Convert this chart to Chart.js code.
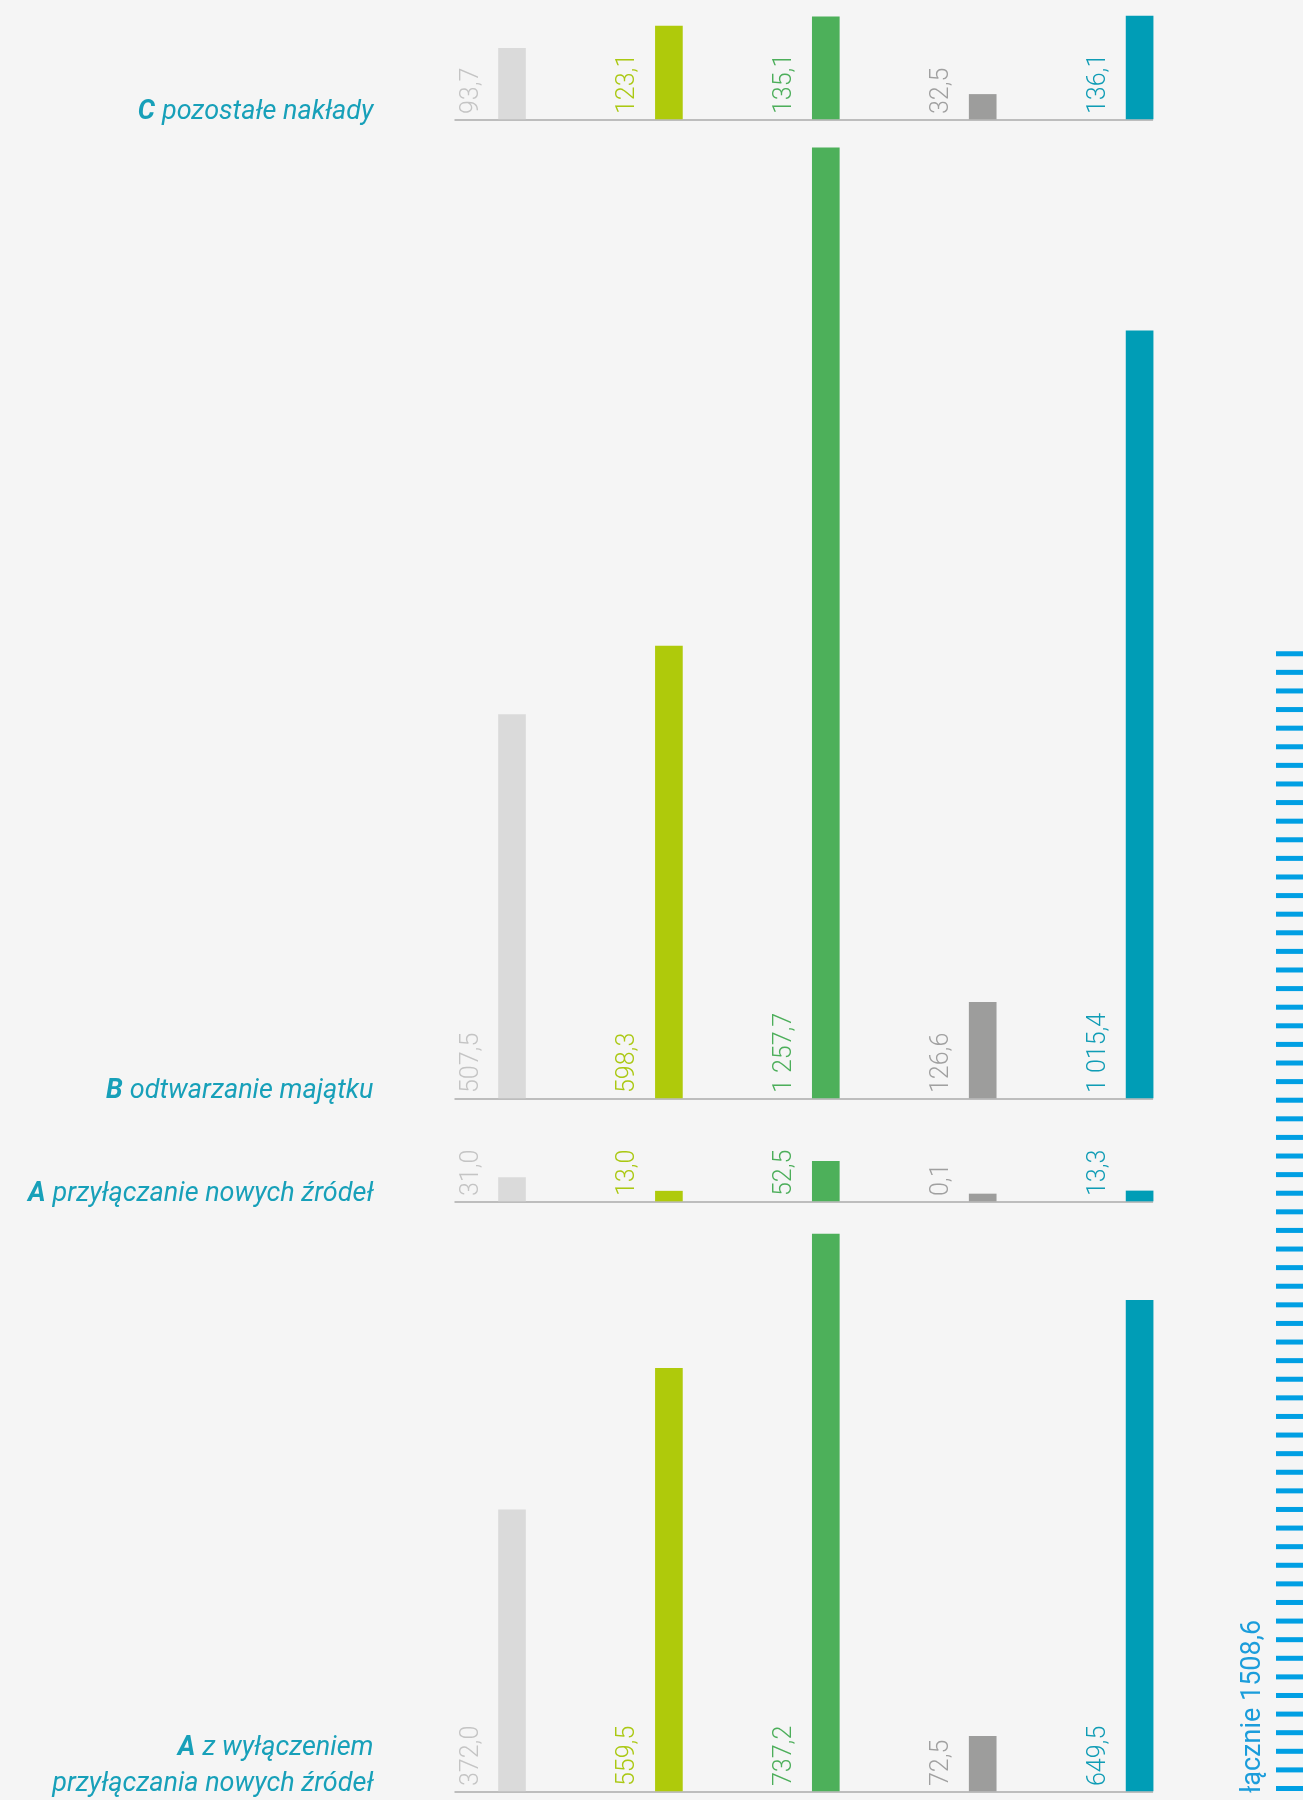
<!DOCTYPE html>
<html lang="pl">
<head>
<meta charset="utf-8">
<title>Nakłady inwestycyjne</title>
<script src="https://cdn.jsdelivr.net/npm/chart.js@4/dist/chart.umd.min.js"></script>
<style>
  html, body { margin: 0; padding: 0; background: #f5f5f5; }
  #wrap { position: relative; width: 1303px; height: 1800px; overflow: hidden; }
</style>
</head>
<body>
<div id="wrap"><canvas id="chart" width="1303" height="1800"></canvas></div>
<script>
// columns, one colour each; the last one is the dashed total bar
const columns = ["kol. 1", "kol. 2", "kol. 3", "kol. 4", "kol. 5", "łącznie"];

// panels, top to bottom
const panelLetters = ["C", "B", "A", "A"];
const panelNames = [
  ["pozostałe nakłady"],
  ["odtwarzanie majątku"],
  ["przyłączanie nowych źródeł"],
  ["z wyłączeniem", "przyłączania nowych źródeł"]
];

const pozostale = [93.7, 123.1, 135.1, 32.5, 136.1];
const odtwarzanie = [507.5, 598.3, 1257.7, 126.6, 1015.4];
const przylaczanie = [31.0, 13.0, 52.5, 0.1, 13.3];
const bezPrzylaczania = [372.0, 559.5, 737.2, 72.5, 649.5];
const lacznie = 1508.6;

const panelValues = [pozostale, odtwarzanie, przylaczanie, bezPrzylaczania];

// look
const barColors = ["#dadada", "#afca0b", "#4db05a", "#9d9d9c", "#009db6"];
const labelColors = ["#c4c4c4", "#aac812", "#4cae5a", "#a0a0a0", "#0f9cb5"];
const teal = "#17a0b9";
const totalBlue = "#009fe3";

// every panel shares one px/unit, only its zero line moves
const H = 1800;
const pxPerUnit = 0.7555;
const baselines = [119, 1098, 1201, 1791];

function fmt(v) {
  const parts = v.toFixed(1).split(".");
  return parts[0].replace(/\B(?=(\d{3})+(?!\d))/g, " ") + "," + parts[1];
}

const scales = {
  x: { type: "category", offset: false, display: false }
};
baselines.forEach((b, i) => {
  scales["y" + i] = {
    type: "linear",
    display: false,
    min: -(H - b) / pxPerUnit,
    max: b / pxPerUnit
  };
});

const datasets = panelValues.map((vals, i) => ({
  label: panelLetters[i] + " " + panelNames[i].join(" "),
  data: vals.concat([null]),
  yAxisID: "y" + i,
  backgroundColor: barColors,
  barThickness: 27,
  minBarLength: 7,
  grouped: false,
  clip: false
}));

datasets.push({
  label: "łącznie",
  data: [null, null, null, null, null, lacznie],
  yAxisID: "y3",
  backgroundColor: "rgba(0,0,0,0)",
  barThickness: 41,
  grouped: false,
  clip: false
});

const decor = {
  id: "decor",
  beforeDatasetsDraw(chart) {
    const ctx = chart.ctx;
    const els = chart.getDatasetMeta(0).data;
    const x0 = els[0].x - els[0].width / 2 - 44;
    const x1 = els[4].x + els[4].width / 2;
    ctx.save();
    ctx.strokeStyle = "#bdbdbd";
    ctx.lineWidth = 2;
    baselines.forEach((b, i) => {
      const y = chart.scales["y" + i].getPixelForValue(0) + 1;
      ctx.beginPath();
      ctx.moveTo(x0, y);
      ctx.lineTo(x1, y);
      ctx.stroke();
    });
    ctx.restore();
  },
  afterDatasetsDraw(chart) {
    const ctx = chart.ctx;
    const first = chart.getDatasetMeta(0).data[0];
    const textRight = first.x - first.width / 2 - 44 - 81;

    ctx.save();
    panelValues.forEach((vals, i) => {
      // values, rotated, left of each bar
      ctx.font = "300 25px Roboto";
      ctx.textAlign = "left";
      ctx.textBaseline = "alphabetic";
      const els = chart.getDatasetMeta(i).data;
      vals.forEach((v, j) => {
        const el = els[j];
        ctx.save();
        ctx.translate(el.x - el.width / 2 - 21, el.base - 5);
        ctx.rotate(-Math.PI / 2);
        ctx.fillStyle = labelColors[j];
        ctx.fillText(fmt(v), 0, 0);
        ctx.restore();
      });

      // panel title, right aligned
      const y0 = chart.scales["y" + i].getPixelForValue(0);
      const lines = panelNames[i];
      ctx.fillStyle = teal;
      ctx.textAlign = "right";
      lines.forEach((line, k) => {
        const y = y0 - (lines.length - 1 - k) * 36;
        ctx.font = "italic 400 27px Roboto";
        ctx.fillText(line, textRight, y);
        if (k === 0) {
          const w = ctx.measureText(line).width;
          ctx.font = "italic 700 27px Roboto";
          ctx.fillText(panelLetters[i], textRight - w - 7, y);
        }
      });
    });

    // total: dashed bar + label
    const tot = chart.getDatasetMeta(4).data[5];
    const top = tot.y, base = tot.base;
    const n = Math.round((base - top) / 18.6) + 1;
    const step = (base - top - 5) / (n - 1);
    ctx.fillStyle = totalBlue;
    for (let k = 0; k < n; k++) {
      ctx.fillRect(tot.x - tot.width / 2, top + k * step, tot.width, 5);
    }
    ctx.translate(tot.x - tot.width / 2 - 16, base + 2);
    ctx.rotate(-Math.PI / 2);
    ctx.textAlign = "left";
    ctx.font = "400 27px Roboto";
    ctx.fillStyle = "#1b9ddb";
    ctx.fillText("łącznie " + lacznie.toFixed(1).replace(".", ","), 0, 0);
    ctx.restore();
  }
};

new Chart(document.getElementById("chart"), {
  type: "bar",
  data: { labels: columns, datasets: datasets },
  options: {
    responsive: false,
    animation: false,
    events: [],
    layout: { padding: { left: 512, right: 6.5, top: 0, bottom: 0 } },
    plugins: { legend: { display: false }, tooltip: { enabled: false } },
    scales: scales
  },
  plugins: [decor]
});
</script>
</body>
</html>
